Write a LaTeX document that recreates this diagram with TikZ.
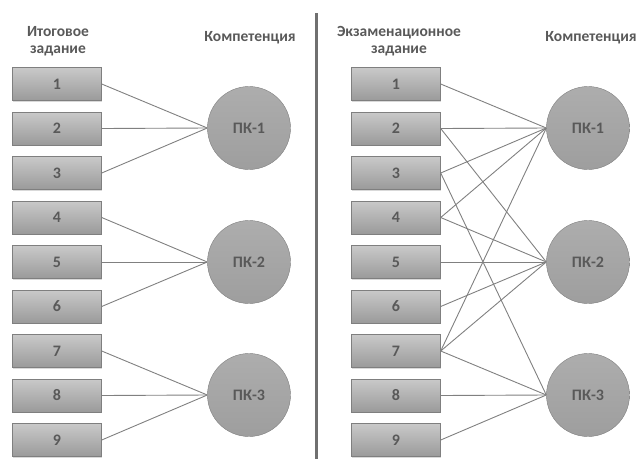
\documentclass[tikz,border=0pt]{standalone}
\usepackage{fontspec}
\setmainfont{Carlito}
\usetikzlibrary{shadows}
\definecolor{boxtop}{HTML}{C9C9C9}
\definecolor{boxbot}{HTML}{9A9A9A}
\definecolor{edgegray}{HTML}{7F7F7F}
\definecolor{linkgray}{HTML}{808080}
\definecolor{txtgray}{HTML}{595959}
\definecolor{circtop}{HTML}{ADADAD}
\definecolor{circbot}{HTML}{9E9E9E}
\definecolor{divgray}{HTML}{707070}
\tikzset{%
  task/.style={draw=edgegray, top color=boxtop, bottom color=boxbot,
    minimum width=89pt, minimum height=33pt, inner sep=0pt,
    font=\fontsize{16}{17}\selectfont\bfseries, text=txtgray,
    drop shadow={shadow xshift=0.8pt, shadow yshift=-1pt, opacity=0.3}},
  comp/.style={circle, draw=edgegray, top color=circtop, bottom color=circbot,
    minimum size=83pt, inner sep=0pt,
    font=\fontsize{16}{17}\selectfont\bfseries, text=txtgray},
  head/.style={font=\fontsize{15.5}{17}\selectfont\bfseries, text=txtgray, align=center},
  link/.style={draw=linkgray, line width=0.9pt}}
\begin{document}
\begin{tikzpicture}[x=1pt,y=-1pt]
\useasboundingbox (0,0) rectangle (638,459);
% headers
\node[head] (lhead) at (58,41) {Итоговое\\задание};
\node[head] (lcomp) at (250,38) {Компетенция};
\node[head] (rhead) at (399,41) {Экзаменационное\\задание};
\node[head] (rcomp) at (591,38) {Компетенция};
% tasks
\foreach \i in {1,...,9} {
  \node[task] (l\i) at (57,{84+(\i-1)*44.5}) {\i};
  \node[task] (r\i) at (396,{84+(\i-1)*44.5}) {\i};
}
% competences
\foreach \k/\y in {1/128,2/262,3/395} {
  \node[comp] (lpk\k) at (249,\y) {ПК-\k};
  \node[comp] (rpk\k) at (588,\y) {ПК-\k};
}
% links
\foreach \t/\c in {1/1,2/1,3/1,4/2,5/2,6/2,7/3,8/3,9/3}
  \draw[link] (l\t.east) -- (lpk\c.west);
\foreach \t/\c in {1/1,2/1,2/2,3/1,3/3,4/1,4/2,5/2,6/2,7/1,7/2,7/3,8/3,9/3}
  \draw[link] (r\t.east) -- (rpk\c.west);
% divider
\coordinate (dtop) at (316.7,13);
\coordinate (dbot) at (316.7,459);
\draw[line width=3pt, draw=divgray] (dtop) -- (dbot);
\end{tikzpicture}
\end{document}
